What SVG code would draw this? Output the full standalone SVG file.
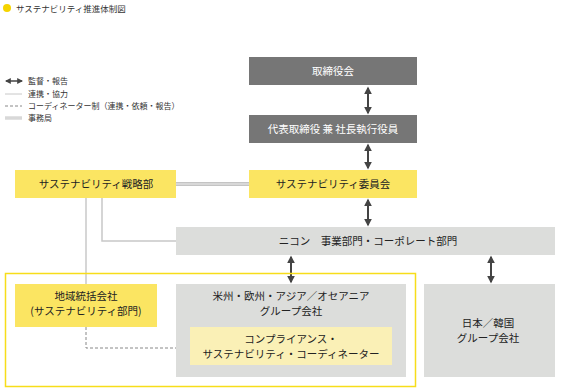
<svg xmlns="http://www.w3.org/2000/svg" width="563" height="389" viewBox="0 0 563 389">
<defs>
<marker id="ah" viewBox="0 0 10 10" refX="8" refY="5" markerWidth="4" markerHeight="4" orient="auto-start-reverse" markerUnits="strokeWidth">
<path d="M0,0 L10,5 L0,10 z" fill="#444"/>
</marker>
<style>
text{font-family:"Noto Sans CJK JP","Noto Sans",sans-serif;font-size:10.5px;fill:#222;text-anchor:middle}
.lg{font-size:8px;text-anchor:start;fill:#333}
.dark{fill:#767676}
.yel{fill:#fbe562}
.gry{fill:#dcdddb}
.pale{fill:#faf0b6}
.wt{fill:#fff}
.arr{stroke:#444;stroke-width:2;fill:none;marker-start:url(#ah);marker-end:url(#ah)}
.thin{stroke:#c8c8c8;stroke-width:1.5;fill:none}
.dash{stroke:#888;stroke-width:1;stroke-dasharray:3,2;fill:none}
.dbl{stroke:#c4c4c4;stroke-width:4;fill:none}
.dblc{stroke:#ececec;stroke-width:1.2;fill:none}
</style>
</defs>
<circle cx="7" cy="8" r="4" fill="#f5d400"/>
<text x="16" y="12" class="lg" style="font-size:8.5px">サステナビリティ推進体制図</text>
<g id="legend">
<line x1="6" y1="81" x2="22" y2="81" class="arr" style="stroke-width:1.5"/>
<text x="28" y="84" class="lg">監督・報告</text>
<line x1="5" y1="94" x2="22" y2="94" class="thin" style="stroke-width:1"/>
<text x="28" y="97" class="lg">連携・協力</text>
<line x1="5" y1="106" x2="22" y2="106" class="dash"/>
<text x="28" y="109" class="lg">コーディネーター制（連携・依頼・報告）</text>
<line x1="5" y1="118" x2="22" y2="118" class="dbl" style="stroke-width:3"/>
<line x1="5" y1="118" x2="22" y2="118" class="dblc" style="stroke-width:1"/>
<text x="28" y="121" class="lg">事務局</text>
</g>
<g id="connectors">
<line x1="176" y1="184" x2="249" y2="184" class="dbl"/>
<line x1="176" y1="184" x2="249" y2="184" class="dblc"/>
<polyline points="102,198 102,241 176,241" class="thin"/>
<line x1="86" y1="198" x2="86" y2="284" class="thin"/>
<polyline points="86,327 86,348 176,348" class="dash"/>
<line x1="368" y1="88" x2="368" y2="113" class="arr"/>
<line x1="368" y1="145" x2="368" y2="168" class="arr"/>
<line x1="368" y1="200" x2="368" y2="225" class="arr"/>
<line x1="291" y1="257" x2="291" y2="282" class="arr"/>
<line x1="491" y1="257" x2="491" y2="282" class="arr"/>
</g>
<g id="group-box">
<rect x="5.5" y="273.5" width="410" height="113" fill="none" stroke="#f7dd1a" stroke-width="1.5"/>
</g>
<g id="board">
<rect x="249" y="57" width="168" height="28" class="dark"/>
<text x="333" y="75" class="wt">取締役会</text>
</g>
<g id="president">
<rect x="249" y="115" width="168" height="28" class="dark"/>
<text x="333" y="133" class="wt">代表取締役 兼 社長執行役員</text>
</g>
<g id="committee">
<rect x="249" y="170" width="168" height="28" class="yel"/>
<text x="333" y="188">サステナビリティ委員会</text>
</g>
<g id="strategy">
<rect x="15" y="170" width="161" height="28" class="yel"/>
<text x="96" y="188">サステナビリティ戦略部</text>
</g>
<g id="nikon">
<rect x="176" y="227" width="379" height="28" class="gry"/>
<text x="368" y="245" style="white-space:pre">ニコン　事業部門・コーポレート部門</text>
</g>
<g id="regional">
<rect x="15" y="284" width="142" height="43" class="yel"/>
<text x="86" y="300">地域統括会社</text>
<text x="86" y="315">(サステナビリティ部門)</text>
</g>
<g id="overseas">
<rect x="176" y="284" width="230" height="93" class="gry"/>
<text x="291" y="300">米州・欧州・アジア／オセアニア</text>
<text x="291" y="315">グループ会社</text>
</g>
<g id="coordinator">
<rect x="190" y="327" width="202" height="38" class="pale"/>
<text x="291" y="343">コンプライアンス・</text>
<text x="291" y="358">サステナビリティ・コーディネーター</text>
</g>
<g id="japan">
<rect x="424" y="284" width="131" height="93" class="gry"/>
<text x="488" y="327">日本／韓国</text>
<text x="488" y="342">グループ会社</text>
</g>
</svg>
